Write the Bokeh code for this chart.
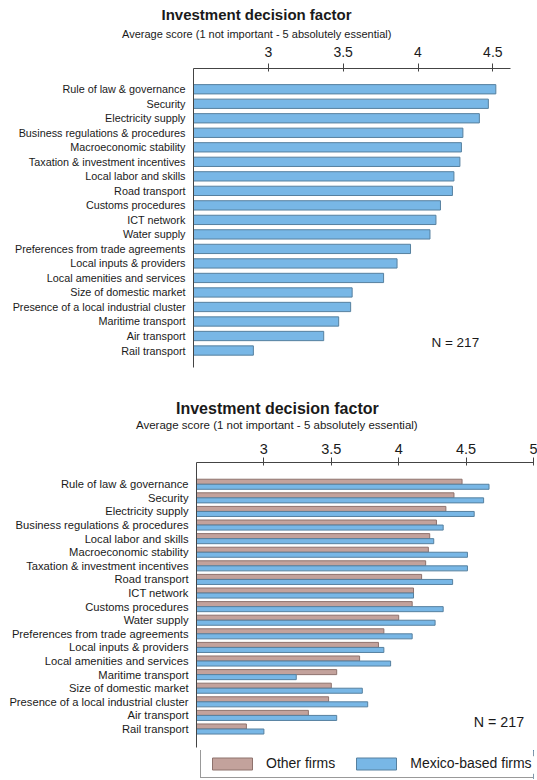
from bokeh.plotting import figure
from bokeh.models import (Range1d, FixedTicker, Label, Legend, LegendItem,
                          ColumnDataSource, Title)
from bokeh.transform import dodge
from bokeh.layouts import column, row
from bokeh.embed import file_html
from bokeh.resources import INLINE

# ---------------- data ----------------
title_text = "Investment decision factor"
subtitle_text = "Average score (1 not important - 5 absolutely essential)"
n_text = "N = 217"

top_factors = [
    "Rule of law & governance", "Security", "Electricity supply",
    "Business regulations & procedures", "Macroeconomic stability",
    "Taxation & investment incentives", "Local labor and skills",
    "Road transport", "Customs procedures", "ICT network", "Water supply",
    "Preferences from trade agreements", "Local inputs & providers",
    "Local amenities and services", "Size of domestic market",
    "Presence of a local industrial cluster", "Maritime transport",
    "Air transport", "Rail transport",
]
top_scores = [4.52, 4.47, 4.41, 4.30, 4.29, 4.28, 4.24, 4.23, 4.15, 4.12,
              4.08, 3.95, 3.86, 3.77, 3.56, 3.55, 3.47, 3.37, 2.90]
top_ticks = [3, 3.5, 4, 4.5]

bottom_factors = [
    "Rule of law & governance", "Security", "Electricity supply",
    "Business regulations & procedures", "Local labor and skills",
    "Macroeconomic stability", "Taxation & investment incentives",
    "Road transport", "ICT network", "Customs procedures", "Water supply",
    "Preferences from trade agreements", "Local inputs & providers",
    "Local amenities and services", "Maritime transport",
    "Size of domestic market", "Presence of a local industrial cluster",
    "Air transport", "Rail transport",
]
other_firms = [4.47, 4.41, 4.35, 4.28, 4.23, 4.22, 4.20, 4.17, 4.11, 4.10,
               4.00, 3.89, 3.85, 3.71, 3.54, 3.50, 3.48, 3.33, 2.87]
mexico_firms = [4.67, 4.63, 4.56, 4.33, 4.26, 4.51, 4.51, 4.40, 4.11, 4.33,
                4.27, 4.10, 3.89, 3.94, 3.24, 3.73, 3.77, 3.54, 3.00]
bottom_ticks = [3, 3.5, 4, 4.5, 5]
series_names = ["Other firms", "Mexico-based firms"]

# ---------------- styles ----------------
FONT = "Liberation Sans"
BLUE = "#78b7e6"
BLUE_LINE = "#56809f"
BROWN = "#c3a29c"
BROWN_LINE = "#8e726d"
AXIS = "#444444"
TEXT = "#1a1a1a"
X_MIN = 2.5
W = 537
LEFT = 196
RIGHT = 4


def style_axes(p, ticks, tick_size, label_size, standoff):
    xa = p.xaxis[0]
    xa.ticker = FixedTicker(ticks=ticks)
    xa.major_label_overrides = {t: ("%g" % t) for t in ticks}
    xa.minor_tick_line_color = None
    xa.major_tick_out = 5
    xa.major_tick_in = 3
    xa.major_tick_line_color = AXIS
    xa.axis_line_color = AXIS
    xa.major_label_text_font = FONT
    xa.major_label_text_font_size = tick_size
    xa.major_label_text_color = TEXT
    xa.major_label_standoff = standoff

    ya = p.yaxis[0]
    ya.minor_tick_line_color = None
    ya.major_tick_line_color = None
    ya.major_tick_out = 0
    ya.major_tick_in = 0
    ya.axis_line_color = AXIS
    ya.major_label_text_font = FONT
    ya.major_label_text_font_size = label_size
    ya.major_label_text_color = TEXT
    ya.major_label_standoff = 8

    p.xgrid.grid_line_color = None
    p.ygrid.grid_line_color = None
    p.outline_line_color = None


def add_titles(p, gap, t_size, t_off, t_stand, s_size, s_off):
    # thin blank spacer between the axis and the subtitle
    p.add_layout(Title(text=" ", standoff=gap, text_font=FONT,
                       text_font_size="2px"), "above")
    p.add_layout(Title(text=subtitle_text, align="left", offset=s_off,
                       standoff=0, text_font=FONT, text_font_size=s_size,
                       text_font_style="normal", text_color=TEXT), "above")
    p.add_layout(Title(text=title_text, align="left", offset=t_off,
                       standoff=t_stand, text_font=FONT, text_font_size=t_size,
                       text_font_style="bold", text_color=TEXT), "above")


# ---------------- top chart ----------------
n1 = len(top_factors)
src1 = ColumnDataSource(dict(y=list(range(n1)), score=top_scores,
                             name=top_factors))
p1 = figure(width=W, height=385, output_backend="svg", toolbar_location=None,
            x_axis_location="above",
            x_range=Range1d(X_MIN, 4.618), y_range=Range1d(n1 - 1 + 1.17, -1.43),
            min_border_left=193, min_border_right=27, min_border_top=68,
            min_border_bottom=18)
p1.hbar(y="y", left=X_MIN, right="score", height=0.64, source=src1,
        fill_color=BLUE, line_color=BLUE_LINE, line_width=1)
style_axes(p1, top_ticks, "14px", "10.8px", 7)
p1.yaxis[0].ticker = FixedTicker(ticks=list(range(n1)))
p1.yaxis[0].major_label_overrides = {i: f for i, f in enumerate(top_factors)}
add_titles(p1, 0, "15px", -32, 5, "11px", -71.5)
p1.add_layout(Label(x=4.09, y=17.47, text=n_text, text_align="left",
                    text_baseline="middle", text_font=FONT,
                    text_font_size="13.5px", text_color=TEXT))

# ---------------- bottom chart ----------------
n2 = len(bottom_factors)
src2 = ColumnDataSource(dict(y=list(range(n2)), other=other_firms,
                             mexico=mexico_firms, name=bottom_factors))
p2 = figure(width=W, height=365, output_backend="svg", toolbar_location=None,
            x_axis_location="above",
            x_range=Range1d(X_MIN, 5.0), y_range=Range1d(n2 - 1 + 1.36, -1.6),
            min_border_left=LEFT, min_border_right=RIGHT, min_border_top=77,
            min_border_bottom=3)
r_other = p2.hbar(y=dodge("y", -0.185, range=p2.y_range), left=X_MIN,
                  right="other", height=0.37, source=src2,
                  fill_color=BROWN, line_color=BROWN_LINE, line_width=1)
r_mex = p2.hbar(y=dodge("y", 0.185, range=p2.y_range), left=X_MIN,
                right="mexico", height=0.37, source=src2,
                fill_color=BLUE, line_color=BLUE_LINE, line_width=1)
style_axes(p2, bottom_ticks, "14.5px", "11.2px", 4)
p2.yaxis[0].ticker = FixedTicker(ticks=list(range(n2)))
p2.yaxis[0].major_label_overrides = {i: f for i, f in enumerate(bottom_factors)}
add_titles(p2, 6, "16px", -20.5, 0, "11.5px", -60.5)
p2.add_layout(Label(x=4.556, y=17.46, text=n_text, text_align="left",
                    text_baseline="middle", text_font=FONT,
                    text_font_size="14.3px", text_color=TEXT))

# ---------------- legend strip ----------------
p3 = figure(width=W, height=29, output_backend="svg", toolbar_location=None,
            x_axis_location=None, y_axis_location=None,
            x_range=Range1d(0, 1), y_range=Range1d(0, 1),
            min_border_left=LEFT, min_border_right=RIGHT, min_border_top=0,
            min_border_bottom=0)
p3.xgrid.grid_line_color = None
p3.ygrid.grid_line_color = None
p3.outline_line_color = None
# key renderers reuse the series data; their bars fall outside this strip's view
k_other = p3.hbar(y="y", left=X_MIN, right="other", height=0.37, source=src2,
                  fill_color=BROWN, line_color=BROWN_LINE, line_width=1)
k_mex = p3.hbar(y="y", left=X_MIN, right="mexico", height=0.37, source=src2,
                fill_color=BLUE, line_color=BLUE_LINE, line_width=1)
legend = Legend(items=[LegendItem(label=series_names[0], renderers=[k_other]),
                       LegendItem(label=series_names[1], renderers=[k_mex])],
                orientation="horizontal", location=(4, 1), margin=0,
                padding=6, spacing=16, glyph_width=50, glyph_height=15,
                label_height=15, label_standoff=9,
                label_text_font=FONT, label_text_font_size="14px",
                label_text_color=TEXT, border_line_color="#333333",
                border_line_width=1, background_fill_alpha=1)
p3.add_layout(legend)

layout = column(row(p1), p2, p3, spacing=0)
open("out.html", "w").write(file_html(layout, INLINE))
